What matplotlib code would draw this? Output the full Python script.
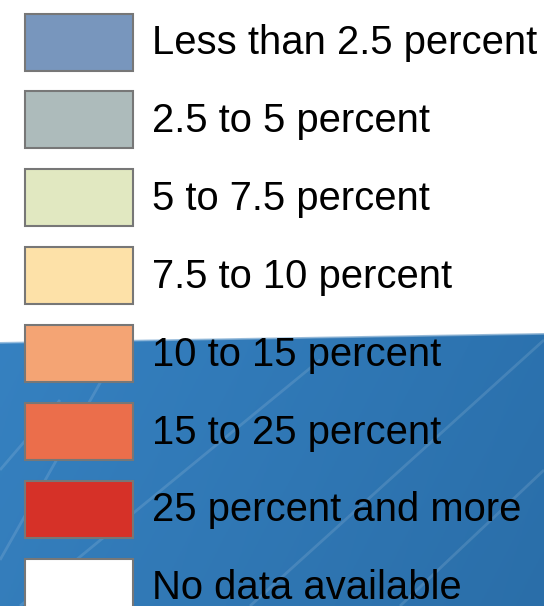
import matplotlib
matplotlib.use("Agg")
import matplotlib.pyplot as plt
import numpy as np

labels = ["Less than 2.5 percent", "2.5 to 5 percent", "5 to 7.5 percent",
          "7.5 to 10 percent", "10 to 15 percent", "15 to 25 percent",
          "25 percent and more", "No data available"]
colors = ["#7896bd", "#adbbbb", "#e1e8c1", "#fde1a8", "#f4a474",
          "#eb6e4b", "#d63128", "#ffffff"]

W, H = 544, 606
fig = plt.figure(figsize=(W / 100, H / 100), dpi=100)
ax = fig.add_axes([0, 0, 1, 1])
ax.set_xlim(0, W)
ax.set_ylim(H, 0)
ax.axis("off")
fig.patch.set_facecolor("white")

# blue background band with gradient
ny, nx = 100, 200
yy, xx = np.mgrid[0:1:ny * 1j, 0:1:nx * 1j]
base = np.array([0.18, 0.47, 0.72])
light = np.array([0.23, 0.53, 0.78])
t = np.clip(0.6 * xx + 0.4 * yy, 0, 1)
img = base[None, None, :] * (1 - t[..., None] * 0.08) + (light - base)[None, None, :] * (1 - xx[..., None]) * 0.6
img = np.clip(img, 0, 1)
im = ax.imshow(img, extent=[0, W, H, 333], aspect="auto", zorder=0)
clip = plt.Polygon([[0, 342], [W, 333], [W, H], [0, H]], closed=True, transform=ax.transData)
im.set_clip_path(clip)
# soft white fade at the top edge
for k in range(6):
    ax.plot([0, W], [342 - k * 0.6 + 1, 333 - k * 0.6 + 1], color="white", alpha=0.25, lw=1.2, zorder=1)

# faint light streaks
streaks = [([0, 130], [560, 330]), ([20, 320], [606, 360]), ([250, 544], [606, 340]),
           ([0, 60], [470, 400]), ([400, 544], [606, 470])]
for xs, ys in streaks:
    ax.plot(xs, ys, color="white", alpha=0.12, lw=2, zorder=1, solid_capstyle="butt")

y = 42 + 77.9 * np.arange(len(labels))
ax.barh(y, 108, left=25, height=57, color=colors, edgecolor="#777777", linewidth=1.5, zorder=3)
for yi, lab in zip(y, labels):
    ax.text(152, yi + 1, lab, fontsize=28.8, family="Liberation Sans", color="black",
            va="center", ha="left", zorder=4)

fig.savefig("out.png", dpi=100)
